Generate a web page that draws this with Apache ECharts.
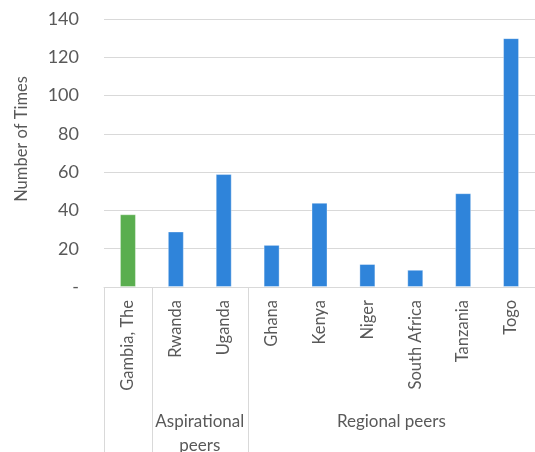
<!DOCTYPE html>
<html>
<head>
<meta charset="utf-8">
<script src="https://cdn.jsdelivr.net/npm/echarts@6/dist/echarts.min.js"></script>
<style>
  html, body { margin: 0; padding: 0; background: #ffffff; }
  #chart { width: 535px; height: 452px; }
</style>
</head>
<body>
<div id="chart"></div>
<script>
// Countries and how many times each was counted
const countries = ['Gambia, The', 'Rwanda', 'Uganda', 'Ghana', 'Kenya', 'Niger', 'South Africa', 'Tanzania', 'Togo'];
const counts = [38, 29, 59, 22, 44, 12, 9, 49, 130];

// Peer groups along the category axis (label, number of countries)
const groupNames = ['', 'Aspirational\npeers', 'Regional peers'];
const groupSizes = [1, 2, 6];

// Value axis ticks
const yMin = 0;
const yMax = 140;
const yStep = 20;

const homeCountry = 'Gambia, The';

const FONT = 'Lato';
const TEXT = '#595959';
const LINE = '#d9d9d9';

const chart = echarts.init(document.getElementById('chart'), null, { renderer: 'canvas' });

chart.setOption({
  animation: false,
  textStyle: { fontFamily: FONT },
  grid: { left: 104, right: 0, top: 19, bottom: 165, containLabel: false },
  xAxis: {
    type: 'category',
    data: countries,
    axisLine: { show: true, lineStyle: { color: LINE, width: 1 } },
    axisTick: { show: false },
    axisLabel: {
      rotate: 90,
      interval: 0,
      margin: 13,
      color: TEXT,
      fontFamily: FONT,
      fontSize: 16.5
    }
  },
  yAxis: {
    type: 'value',
    min: yMin,
    max: yMax,
    interval: yStep,
    name: 'Number of Times',
    nameLocation: 'middle',
    nameGap: 74,
    nameTextStyle: { color: TEXT, fontFamily: FONT, fontSize: 16.5, padding: [0, 0, 0, 28] },
    axisLine: { show: false },
    axisTick: { show: false },
    splitLine: { lineStyle: { color: LINE, width: 1 } },
    axisLabel: {
      margin: 25,
      color: TEXT,
      fontFamily: FONT,
      fontSize: 18,
      formatter: v => (v === 0 ? '-' : String(v))
    }
  },
  series: [{
    type: 'bar',
    data: counts,
    barWidth: 16,
    itemStyle: {
      color: p => (p.name === homeCountry ? '#5aae4f' : '#2f84da'),
      borderColor: 'rgba(255,255,255,0.35)',
      borderWidth: 1
    }
  }]
});

// Group separators and group labels under the country labels
function drawGroups() {
  const axisY = chart.convertToPixel({ yAxisIndex: 0 }, yMin);
  const bottom = 452;
  const pxOf = i => chart.convertToPixel({ xAxisIndex: 0 }, countries[i]);
  const step = pxOf(1) - pxOf(0);
  const elements = [];
  let start = 0;
  const edges = [pxOf(0) - step / 2];
  groupSizes.forEach((size, g) => {
    const left = pxOf(start) - step / 2;
    const right = pxOf(start + size - 1) + step / 2;
    edges.push(right);
    if (groupNames[g]) {
      elements.push({
        type: 'text',
        x: (left + right) / 2,
        y: 410,
        style: {
          text: groupNames[g],
          fill: TEXT,
          font: '17px ' + FONT,
          align: 'center',
          verticalAlign: 'top',
          lineHeight: 24
        }
      });
    }
    start += size;
  });
  edges.forEach((x, k) => {
    if (k === edges.length - 1) return;
    const xx = Math.round(x) + 0.5;
    elements.push({
      type: 'line',
      shape: { x1: xx, y1: axisY, x2: xx, y2: bottom },
      style: { stroke: LINE, lineWidth: 1 }
    });
  });
  chart.setOption({ graphic: elements });
}
drawGroups();
</script>
</body>
</html>
